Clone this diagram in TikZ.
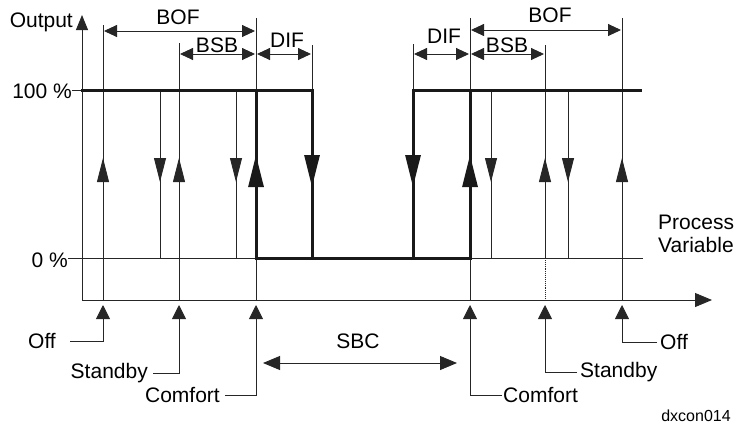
\documentclass[tikz,border=0pt]{standalone}
\usepackage{fontspec}
\setmainfont{Liberation Sans}
\usetikzlibrary{arrows.meta}
\begin{document}
\begin{tikzpicture}[x=1pt,y=-1pt,
  thinln/.style={line width=0.9pt,draw=black!85},
  thickln/.style={line width=3pt,draw=black!90,line cap=rect},
  lbl/.style={inner sep=0pt,font=\fontsize{21}{23}\selectfont},
  small/.style={inner sep=0pt,font=\fontsize{16}{18}\selectfont},
  tup/.style={thinln,-{Triangle[length=24pt,width=12pt]}},
  kup/.style={line width=3pt,draw=black!90,-{Triangle[length=32pt,width=15pt]}},
  dim/.style={thinln,{Triangle[length=13pt,width=12pt]}-{Triangle[length=13pt,width=12pt]}},
  ptr/.style={thinln,-{Triangle[length=14pt,width=14pt]}},
]
\useasboundingbox (0,0) rectangle (738,426);
% axes
\coordinate (O) at (82,300);
\coordinate (ytip) at (82,15);
\coordinate (xtip) at (712,300);
\draw[thinln,-{Triangle[length=15pt,width=12pt]}] (O) -- (ytip);
\draw[thinln,-{Triangle[length=17pt,width=14pt]}] (O) -- (xtip);
% reference level lines
\draw[thinln] (72,90) -- (82,90);
\draw[thinln] (68,258) -- (256,258);
\draw[thinln] (470,258) -- (643,258);
% thin verticals
\draw[thinln] (103,25) -- (103,300);
\draw[thinln] (160,90) -- (160,258);
\draw[thinln] (179,43) -- (179,300);
\draw[thinln] (236,90) -- (236,258);
\draw[thinln] (256,18) -- (256,90) (256,258) -- (256,300);
\draw[thinln] (312,45) -- (312,90);
\draw[thinln] (413,44) -- (413,90);
\draw[thinln] (470,18) -- (470,90) (470,258) -- (470,300);
\draw[thinln] (491,90) -- (491,258);
\draw[thinln] (545,45) -- (545,258);
\draw[thinln,densely dotted] (545,258) -- (545,300);
\draw[thinln] (568,90) -- (568,258);
\draw[thinln] (622,18) -- (622,300);
% thick characteristic
\draw[thickln,line join=miter] (82,90) -- (312,90) -- (312,258);
\draw[thickln,line join=miter] (256,90) -- (256,258) -- (470,258) -- (470,90);
\draw[thickln,line join=miter] (413,258) -- (413,90) -- (640,90);
% mid arrows thin up
\foreach \x in {103,179,545,622} \draw[tup] (\x,182) -- (\x,158);
% thin down
\foreach \x in {160,236,491,568} \draw[tup] (\x,158) -- (\x,182);
% thick up / down
\foreach \x in {256,470} \draw[kup] (\x,187) -- (\x,155);
\foreach \x in {312,413} \draw[kup] (\x,155) -- (\x,187);
% dimension arrows
\draw[dim] (104,31) -- (255,31);
\draw[dim] (180,54) -- (255,54);
\draw[dim] (257,54) -- (311,54);
\draw[dim] (414,54) -- (469,54);
\draw[dim] (471,54) -- (544,54);
\draw[dim] (471,30) -- (621,30);
\node[lbl] (bofL) at (178,17) {BOF};
\node[lbl] (bsbL) at (217,45) {BSB};
\node[lbl] (difL) at (287,40) {DIF};
\node[lbl] (difR) at (444,36) {DIF};
\node[lbl] (bsbR) at (507,45) {BSB};
\node[lbl] (bofR) at (550,15) {BOF};
% axis labels
\node[lbl,anchor=east] (out) at (73,22) {Output};
\node[lbl,anchor=east] (hund) at (72,91) {100 \%};
\node[lbl,anchor=east] (zero) at (68,260) {0 \%};
\node[lbl,anchor=west,align=left] (pv) at (658,234) {Process\\Variable};
% bottom labels
\node[lbl,anchor=east] (offL) at (56,341) {Off};
\node[lbl,anchor=east] (stbL) at (148,373) {Standby};
\node[lbl,anchor=east] (comL) at (220,395) {Comfort};
\node[lbl,anchor=west] (comR) at (503,395) {Comfort};
\node[lbl,anchor=west] (stbR) at (580,372) {Standby};
\node[lbl,anchor=west] (offR) at (660,342) {Off};
\coordinate (aOffL) at (103,305);
\coordinate (aStbL) at (179,305);
\coordinate (aComL) at (256,305);
\coordinate (aComR) at (470,305);
\coordinate (aStbR) at (545,305);
\coordinate (aOffR) at (622,305);
\draw[ptr] ([xshift=14pt]offL.east) -| (aOffL);
\draw[ptr] ([xshift=5pt]stbL.east) -| (aStbL);
\draw[ptr] ([xshift=5pt]comL.east) -| (aComL);
\draw[ptr] ([xshift=-1pt]comR.west) -| (aComR);
\draw[ptr] ([xshift=-3pt]stbR.west) -| (aStbR);
\draw[ptr] ([xshift=-3pt]offR.west) -| (aOffR);
% SBC
\node[lbl] (sbc) at (358,341) {SBC};
\coordinate (sbcA) at (263,363);
\coordinate (sbcB) at (457,363);
\draw[thinln,{Triangle[length=17pt,width=14pt]}-{Triangle[length=17pt,width=14pt]}] (sbcA) -- (sbcB);
\node[small] (code) at (696,416) {dxcon014};
\end{tikzpicture}
\end{document}
